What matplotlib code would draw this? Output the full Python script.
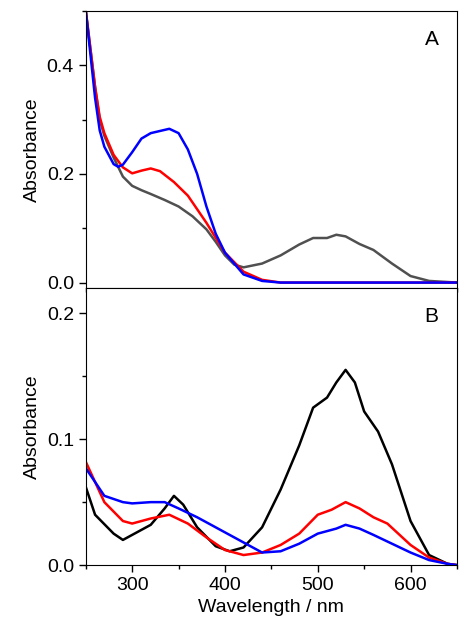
import matplotlib
matplotlib.use("Agg")
import matplotlib.pyplot as plt
from matplotlib.ticker import MultipleLocator

plt.rcParams['font.family'] = ['Arial', 'Liberation Sans', 'DejaVu Sans']

wl_a_gray = [250, 255, 260, 265, 270, 280, 290, 300, 310, 320, 335, 350, 365, 380, 390, 400, 410, 420, 440, 460, 480, 495, 510, 520, 530, 545, 560, 580, 600, 620, 650]
abs_a_gray = [0.50, 0.43, 0.36, 0.30, 0.27, 0.23, 0.195, 0.178, 0.170, 0.163, 0.152, 0.140, 0.122, 0.098, 0.075, 0.050, 0.033, 0.028, 0.035, 0.050, 0.070, 0.082, 0.082, 0.088, 0.085, 0.071, 0.060, 0.035, 0.012, 0.003, 0.0]
wl_a_red = [250, 255, 260, 265, 270, 280, 290, 300, 310, 320, 330, 345, 360, 380, 400, 420, 440, 460, 650]
abs_a_red = [0.50, 0.43, 0.36, 0.305, 0.275, 0.235, 0.212, 0.201, 0.206, 0.210, 0.205, 0.185, 0.160, 0.110, 0.055, 0.020, 0.005, 0.0, 0.0]
wl_a_blue = [250, 255, 260, 265, 270, 280, 285, 290, 300, 310, 320, 340, 350, 360, 370, 380, 390, 400, 420, 440, 460, 650]
abs_a_blue = [0.50, 0.42, 0.34, 0.28, 0.25, 0.218, 0.213, 0.217, 0.240, 0.265, 0.275, 0.283, 0.275, 0.245, 0.200, 0.140, 0.090, 0.055, 0.015, 0.003, 0.0, 0.0]

wl_b_black = [250, 260, 280, 290, 300, 320, 335, 345, 355, 370, 390, 405, 420, 440, 460, 480, 495, 510, 520, 530, 540, 550, 565, 580, 600, 620, 640, 650]
abs_b_black = [0.062, 0.040, 0.025, 0.020, 0.024, 0.032, 0.045, 0.055, 0.048, 0.030, 0.015, 0.011, 0.014, 0.030, 0.060, 0.095, 0.125, 0.133, 0.145, 0.155, 0.145, 0.122, 0.106, 0.080, 0.035, 0.008, 0.001, 0.0]
wl_b_red = [250, 270, 290, 300, 320, 340, 360, 380, 400, 420, 440, 460, 480, 500, 515, 530, 545, 560, 575, 600, 620, 640, 650]
abs_b_red = [0.082, 0.050, 0.035, 0.033, 0.037, 0.040, 0.033, 0.022, 0.012, 0.008, 0.010, 0.016, 0.025, 0.040, 0.044, 0.050, 0.045, 0.038, 0.033, 0.016, 0.006, 0.001, 0.0]
wl_b_blue = [250, 270, 290, 300, 320, 335, 350, 370, 390, 420, 440, 460, 480, 500, 520, 530, 545, 560, 580, 600, 620, 640, 650]
abs_b_blue = [0.077, 0.055, 0.050, 0.049, 0.050, 0.050, 0.045, 0.038, 0.030, 0.018, 0.010, 0.011, 0.017, 0.025, 0.029, 0.032, 0.029, 0.024, 0.017, 0.010, 0.004, 0.001, 0.0]

fig = plt.figure(figsize=(4.74, 6.40), dpi=100)
axA = fig.add_axes([0.181, 0.55, 0.783, 0.433])
axB = fig.add_axes([0.181, 0.117, 0.783, 0.433])

lw = 1.8
axA.plot(wl_a_gray, abs_a_gray, color='#505050', lw=lw)
axA.plot(wl_a_red, abs_a_red, color='#ff0000', lw=lw)
axA.plot(wl_a_blue, abs_a_blue, color='#0000ff', lw=lw)
axA.set_ylim(-0.01, 0.5)
axA.yaxis.set_minor_locator(MultipleLocator(0.1))
axA.set_yticks([0.0, 0.2, 0.4])
axA.set_yticklabels(['0.0', '0.2', '0.4'])
axA.text(0.95, 0.93, 'A', transform=axA.transAxes, fontsize=15, ha='right', va='top')

axB.plot(wl_b_black, abs_b_black, color='black', lw=lw)
axB.plot(wl_b_red, abs_b_red, color='#ff0000', lw=lw)
axB.plot(wl_b_blue, abs_b_blue, color='#0000ff', lw=lw)
axB.set_ylim(0, 0.22)
axB.set_yticks([0.0, 0.1, 0.2])
axB.set_yticklabels(['0.0', '0.1', '0.2'])
axB.yaxis.set_minor_locator(MultipleLocator(0.05))
axB.set_xlabel('Wavelength / nm', fontsize=14)
axB.text(0.95, 0.93, 'B', transform=axB.transAxes, fontsize=15, ha='right', va='top')

for ax in (axA, axB):
    ax.set_xlim(250, 650)
    ax.xaxis.set_major_locator(MultipleLocator(100))
    ax.xaxis.set_minor_locator(MultipleLocator(50))
    ax.set_ylabel('Absorbance', fontsize=14)
    ax.tick_params(which='both', direction='out', labelsize=14, width=1)
    ax.tick_params(which='major', length=5)
    ax.tick_params(which='minor', length=3)
axA.tick_params(axis='x', labelbottom=False)

fig.savefig('out.png', dpi=100)
